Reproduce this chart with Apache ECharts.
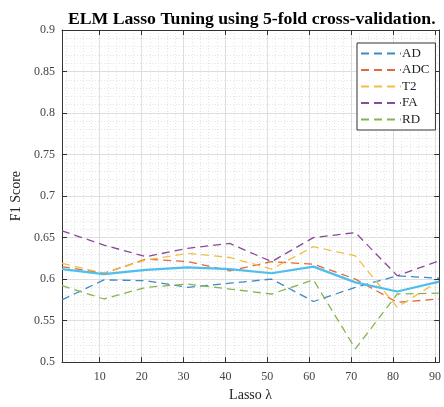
<!DOCTYPE html>
<html>
<head>
<meta charset="utf-8">
<script src="https://cdn.jsdelivr.net/npm/echarts@6/dist/echarts.min.js"></script>
<style>html,body{margin:0;padding:0;background:#fff}#c{width:444px;height:407px}</style>
</head>
<body>
<div id="c"></div>
<script>
const lambdas = [1, 11, 21, 31, 41, 51, 61, 71, 81, 91];
const AD  = [0.575, 0.599, 0.598, 0.590, 0.595, 0.600, 0.573, 0.590, 0.604, 0.601];
const ADC = [0.615, 0.607, 0.624, 0.621, 0.610, 0.621, 0.618, 0.600, 0.572, 0.576];
const T2  = [0.619, 0.607, 0.623, 0.631, 0.626, 0.612, 0.639, 0.628, 0.566, 0.598];
const FA  = [0.658, 0.641, 0.627, 0.637, 0.643, 0.621, 0.650, 0.656, 0.604, 0.622];
const RD  = [0.592, 0.576, 0.590, 0.594, 0.588, 0.582, 0.599, 0.516, 0.582, 0.583];
const MEAN = [0.612, 0.606, 0.611, 0.614, 0.612, 0.607, 0.615, 0.596, 0.585, 0.597];
const xTicks = [10, 20, 30, 40, 50, 60, 70, 80, 90];
const xMinor = [2,4,6,8,12,14,16,18,22,24,26,28,32,34,36,38,42,44,46,48,52,54,56,58,62,64,66,68,72,74,76,78,82,84,86,88];

const serif = '"Liberation Serif", "DejaVu Serif", serif';
const pair = a => lambdas.map((x, i) => [x, a[i]]);

const dashed = (name, data, color) => ({
  name, type: 'line', data: pair(data), symbol: 'none', xAxisIndex: 0, yAxisIndex: 0,
  lineStyle: { color, width: 1.3, type: [8, 5] }, itemStyle: { color }
});

const chart = echarts.init(document.getElementById('c'), null, { renderer: 'canvas' });
const axisCol = '#333';
chart.setOption({
  animation: false,
  title: {
    text: 'ELM Lasso Tuning using 5-fold cross-validation.',
    left: 63, top: 5,
    textStyle: { fontFamily: serif, fontWeight: 'bold', fontSize: 17.7, color: '#000' }
  },
  grid: { left: 62, top: 30, width: 380, height: 335, containLabel: false },
  legend: {
    data: ['AD', 'ADC', 'T2', 'FA', 'RD'],
    orient: 'vertical', left: 357, top: 43,
    itemWidth: 40, itemHeight: 12, itemGap: 3.5,
    padding: [4, 6, 4, 3],
    backgroundColor: '#fff', borderColor: '#333', borderWidth: 1,
    itemStyle: { opacity: 0 },
    textStyle: { fontFamily: serif, fontSize: 13, color: '#222', padding: [0, 0, 0, -4] }
  },
  xAxis: [
    {
      type: 'value', min: 1, max: 91, position: 'bottom',
      name: 'Lasso λ', nameLocation: 'middle', nameGap: 24,
      nameTextStyle: { fontFamily: serif, fontSize: 14, color: '#222' },
      axisLine: { show: true, lineStyle: { color: axisCol } },
      axisTick: { show: true, inside: true, length: 5, customValues: xTicks, lineStyle: { color: axisCol } },
      axisLabel: { customValues: xTicks, fontFamily: serif, fontSize: 12, color: '#444', margin: 9 },
      splitLine: { show: true, lineStyle: { color: '#dedede', width: 1 } }
    },
    {
      type: 'value', min: 1, max: 91, position: 'top',
      axisLine: { show: true, onZero: false, lineStyle: { color: axisCol } },
      axisTick: { show: true, inside: true, length: 5, customValues: xTicks, lineStyle: { color: axisCol } },
      axisLabel: { show: false, customValues: xTicks },
      splitLine: { show: false }
    },
    {
      type: 'value', min: 1, max: 91, position: 'bottom',
      axisLine: { show: false },
      axisTick: { show: false, customValues: xMinor },
      axisLabel: { show: false, customValues: xMinor },
      splitLine: { show: true, lineStyle: { color: '#e4e4e4', width: 1, type: [1, 2] } }
    }
  ],
  yAxis: [
    {
      type: 'value', min: 0.5, max: 0.9, interval: 0.05, position: 'left',
      name: 'F1 Score', nameLocation: 'middle', nameGap: 37,
      nameTextStyle: { fontFamily: serif, fontSize: 14, color: '#222' },
      axisLine: { show: true, lineStyle: { color: axisCol } },
      axisTick: { show: true, inside: true, length: 5, lineStyle: { color: axisCol } },
      axisLabel: { fontFamily: serif, fontSize: 12, color: '#444', margin: 7,
        formatter: v => String(parseFloat(v.toFixed(2))) },
      splitLine: { show: true, lineStyle: { color: '#dedede', width: 1 } },
      minorTick: { show: false, splitNumber: 5 },
      minorSplitLine: { show: true, lineStyle: { color: '#e4e4e4', width: 1, type: [1, 2] } }
    },
    {
      type: 'value', min: 0.5, max: 0.9, interval: 0.05, position: 'right',
      axisLine: { show: true, lineStyle: { color: axisCol } },
      axisTick: { show: true, inside: true, length: 5, lineStyle: { color: axisCol } },
      axisLabel: { show: false },
      splitLine: { show: false }
    }
  ],
  series: [
    dashed('AD', AD, '#3a8cc8'),
    dashed('ADC', ADC, '#e06a3a'),
    dashed('T2', T2, '#f0bf45'),
    dashed('FA', FA, '#8a4a9a'),
    dashed('RD', RD, '#86b450'),
    { name: 'Mean', type: 'line', data: pair(MEAN), symbol: 'none', xAxisIndex: 0, yAxisIndex: 0,
      lineStyle: { color: '#4DBEEE', width: 2.2 }, itemStyle: { color: '#4DBEEE' } }
  ]
});
</script>
</body>
</html>
